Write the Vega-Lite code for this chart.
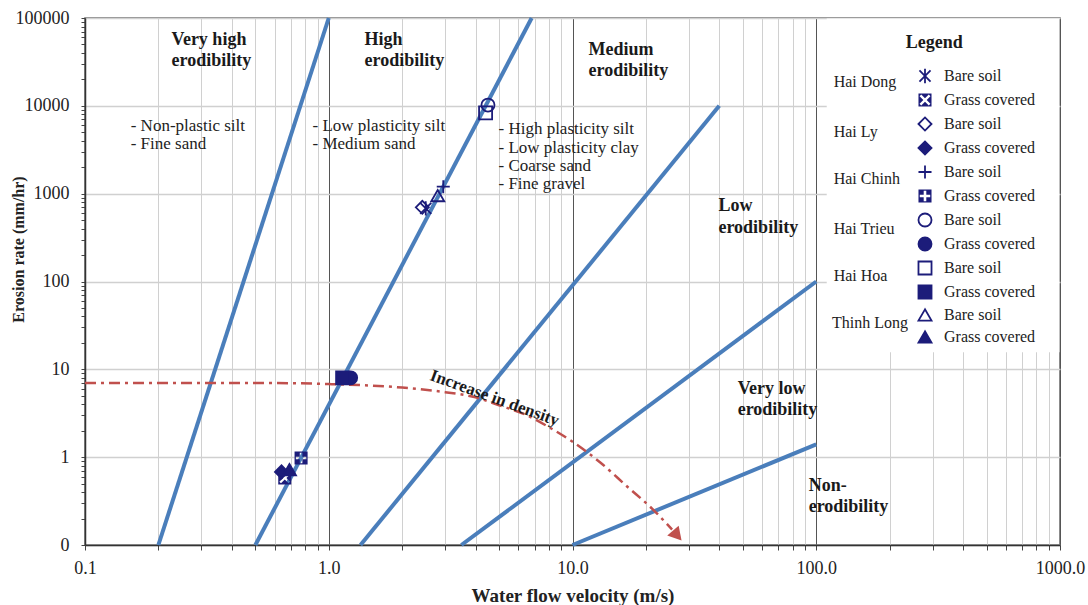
{
  "$schema": "https://vega.github.io/schema/vega-lite/v6.json",
  "width": 975,
  "height": 527,
  "autosize": {"type": "none"},
  "padding": {"left": 85, "top": 18, "right": 28, "bottom": 60},
  "background": "white",
  "config": {
    "font": "Liberation Serif",
    "view": {"stroke": "#666", "strokeWidth": 1.5}
  },
  "datasets": {
    "box": [{"x": 110.4, "x2": 995, "y": 15.7, "y2": 98500}],
    "lines": [
      {"line": "a", "x": 0.2, "y": 0.1}, {"line": "a", "x": 1.0, "y": 100000},
      {"line": "b", "x": 0.5, "y": 0.1}, {"line": "b", "x": 6.8, "y": 100000},
      {"line": "c", "x": 1.35, "y": 0.1}, {"line": "c", "x": 40, "y": 10000},
      {"line": "d", "x": 3.5, "y": 0.1}, {"line": "d", "x": 100, "y": 100},
      {"line": "e", "x": 10, "y": 0.1}, {"line": "e", "x": 100, "y": 1.4}
    ],
    "curve": [
      {"x": 0.1, "y": 7.0}, {"x": 0.5, "y": 7.0}, {"x": 1.0, "y": 6.8},
      {"x": 2.0, "y": 6.2}, {"x": 3.0, "y": 5.5}, {"x": 4.0, "y": 4.8},
      {"x": 5.0, "y": 3.9}, {"x": 6.5, "y": 3.0}, {"x": 8.0, "y": 2.2},
      {"x": 10, "y": 1.5}, {"x": 13, "y": 0.87}, {"x": 16.8, "y": 0.46},
      {"x": 21.5, "y": 0.25}, {"x": 25.6, "y": 0.15}
    ],
    "arrow": [{"x": 26.9, "y": 0.128}],
    "pts": [
      {"series": "Hai Dong|Bare soil", "x": 2.5, "y": 680},
      {"series": "Hai Dong|Grass covered", "x": 0.66, "y": 0.58},
      {"series": "Hai Ly|Bare soil", "x": 2.42, "y": 700},
      {"series": "Hai Ly|Grass covered", "x": 0.64, "y": 0.68},
      {"series": "Hai Chinh|Bare soil", "x": 2.95, "y": 1200},
      {"series": "Hai Chinh|Grass covered", "x": 0.77, "y": 0.98},
      {"series": "Hai Trieu|Bare soil", "x": 4.5, "y": 10200},
      {"series": "Hai Trieu|Grass covered", "x": 1.23, "y": 8.0},
      {"series": "Hai Hoa|Bare soil", "x": 4.4, "y": 8300},
      {"series": "Hai Hoa|Grass covered", "x": 1.14, "y": 8.0},
      {"series": "Thinh Long|Bare soil", "x": 2.8, "y": 950},
      {"series": "Thinh Long|Grass covered", "x": 0.69, "y": 0.72}
    ],
    "regions": [
      {"t": "Very high", "x": 0.2265, "y": 56150},
      {"t": "erodibility", "x": 0.2265, "y": 32370},
      {"t": "High", "x": 1.403, "y": 56150},
      {"t": "erodibility", "x": 1.403, "y": 32370},
      {"t": "Medium", "x": 11.64, "y": 43220},
      {"t": "erodibility", "x": 11.64, "y": 24920},
      {"t": "Low", "x": 39.7, "y": 722},
      {"t": "erodibility", "x": 39.7, "y": 405.7},
      {"t": "Very low", "x": 47.6, "y": 5.95},
      {"t": "erodibility", "x": 47.6, "y": 3.43},
      {"t": "Non-", "x": 93.1, "y": 0.468},
      {"t": "erodibility", "x": 93.1, "y": 0.27},
      {"t": "Legend", "x": 232.8, "y": 51900}
    ],
    "soils": [
      {"t": "- Non-plastic silt", "x": 0.154, "y": 5888},
      {"t": "- Fine sand", "x": 0.154, "y": 3673},
      {"t": "- Low plasticity silt", "x": 0.858, "y": 5888},
      {"t": "- Medium sand", "x": 0.858, "y": 3673},
      {"t": "- High plasticity silt", "x": 4.97, "y": 5444},
      {"t": "- Low plasticity clay", "x": 4.97, "y": 3306},
      {"t": "- Coarse sand", "x": 4.97, "y": 2063},
      {"t": "- Fine gravel", "x": 4.97, "y": 1286}
    ],
    "sites": [
      {"t": "Hai Dong", "x": 117.9, "y": 18660},
      {"t": "Hai Ly", "x": 117.9, "y": 5030},
      {"t": "Hai Chinh", "x": 117.9, "y": 1466},
      {"t": "Hai Trieu", "x": 117.9, "y": 395},
      {"t": "Hai Hoa", "x": 117.9, "y": 115},
      {"t": "Thinh Long", "x": 116, "y": 33.6}
    ],
    "density": [{"t": "Increase in density", "x": 4.79, "y": 4.7}]
  },
  "encoding": {
    "x": {
      "field": "x", "type": "quantitative",
      "scale": {"type": "log", "domain": [0.1, 1000], "nice": false},
      "axis": {
        "title": "Water flow velocity (m/s)",
        "titleFont": "Liberation Serif", "titleFontSize": 19, "titleFontWeight": "bold", "titleColor": "#222",
        "titleY": 50, "titleBaseline": "middle",
        "values": [0.1,0.2,0.3,0.4,0.5,0.6,0.7,0.8,0.9,1,2,3,4,5,6,7,8,9,10,20,30,40,50,60,70,80,90,100,200,300,400,500,600,700,800,900,1000],
        "labelExpr": "abs(log(datum.value)/LN10 - round(log(datum.value)/LN10)) < 0.001 ? format(datum.value, '.1f') : ''",
        "labelFont": "Liberation Serif", "labelFontSize": 18, "labelColor": "#222",
        "labelPadding": 9, "labelFlush": false, "labelOverlap": false,
        "grid": true,
        "gridColor": {"condition": {"test": "abs(log(datum.value)/LN10 - round(log(datum.value)/LN10)) < 0.001", "value": "#555"}, "value": "#d0d0d0"},
        "gridWidth": 1,
        "tickSize": 5, "tickColor": "#444",
        "domainColor": "#333", "domainWidth": 1.5
      }
    },
    "y": {
      "field": "y", "type": "quantitative",
      "scale": {"type": "log", "domain": [0.1, 100000], "nice": false},
      "axis": {
        "title": "Erosion rate (mm/hr)",
        "titleFont": "Liberation Serif", "titleFontSize": 16, "titleFontWeight": "bold", "titleColor": "#222",
        "titleX": -67, "titleY": 231, "titleBaseline": "middle",
        "values": [0.1,0.2,0.3,0.4,0.5,0.6,0.7,0.8,0.9,1,2,3,4,5,6,7,8,9,10,20,30,40,50,60,70,80,90,100,200,300,400,500,600,700,800,900,1000,2000,3000,4000,5000,6000,7000,8000,9000,10000,20000,30000,40000,50000,60000,70000,80000,90000,100000],
        "labelExpr": "abs(log(datum.value)/LN10 - round(log(datum.value)/LN10)) < 0.001 ? (datum.value < 0.5 ? '0' : format(datum.value, 'd')) : ''",
        "labelFont": "Liberation Serif", "labelFontSize": 18, "labelColor": "#222",
        "labelPadding": 12, "labelOverlap": false, "labelFlush": false,
        "grid": true,
        "gridOpacity": {"condition": {"test": "abs(log(datum.value)/LN10 - round(log(datum.value)/LN10)) < 0.001", "value": 1}, "value": 0},
        "gridColor": "#d0d0d0", "gridWidth": 1.3,
        "tickSize": 4, "tickColor": "#444",
        "domainColor": "#333", "domainWidth": 1.5
      }
    }
  },
  "layer": [
    {
      "data": {"name": "box"},
      "mark": {"type": "rect", "fill": "white"},
      "encoding": {"x2": {"field": "x2"}, "y2": {"field": "y2"}}
    },
    {
      "data": {"name": "lines"},
      "mark": {"type": "line", "color": "#4a7ebb", "strokeWidth": 4},
      "encoding": {"detail": {"field": "line", "type": "nominal"}}
    },
    {
      "data": {"name": "curve"},
      "mark": {"type": "line", "color": "#c0504d", "strokeWidth": 2.5, "strokeDash": [11, 5, 3, 5], "interpolate": "monotone"},
      "encoding": {}
    },
    {
      "data": {"name": "arrow"},
      "mark": {"type": "point", "shape": "triangle-up", "filled": true, "color": "#c0504d", "size": 230, "angle": 139, "opacity": 1}
    },
    {
      "data": {"name": "pts"},
      "mark": {"type": "point", "size": 170, "strokeWidth": 1.8, "opacity": 1},
      "encoding": {
        "shape": {
          "field": "series", "type": "nominal",
          "scale": {
            "domain": ["Hai Dong|Bare soil","Hai Dong|Grass covered","Hai Ly|Bare soil","Hai Ly|Grass covered","Hai Chinh|Bare soil","Hai Chinh|Grass covered","Hai Trieu|Bare soil","Hai Trieu|Grass covered","Hai Hoa|Bare soil","Hai Hoa|Grass covered","Thinh Long|Bare soil","Thinh Long|Grass covered"],
            "range": [
              "M-0.85,-0.85L0.85,0.85M0.85,-0.85L-0.85,0.85M0,-1.1L0,1.1",
              "M-1,-1L1,-1L1,1L-1,1ZM0.58,-0.83L0,-0.255L-0.58,-0.83L-0.83,-0.58L-0.255,0L-0.83,0.58L-0.58,0.83L0,0.255L0.58,0.83L0.83,0.58L0.255,0L0.83,-0.58Z",
              "diamond", "diamond",
              "M-1,0L1,0M0,-1L0,1",
              "M-1,-1L1,-1L1,1L-1,1ZM-0.2,-0.8L-0.2,-0.2L-0.8,-0.2L-0.8,0.2L-0.2,0.2L-0.2,0.8L0.2,0.8L0.2,0.2L0.8,0.2L0.8,-0.2L0.2,-0.2L0.2,-0.8Z",
              "circle", "circle", "square", "square", "triangle-up", "triangle-up"
            ]
          },
          "legend": {
            "title": null, "orient": "none", "legendX": 832, "legendY": 50,
            "labelExpr": "split(datum.label, '|')[1]",
            "labelFont": "Liberation Serif", "labelFontSize": 16, "labelColor": "#222",
            "labelOffset": 11, "rowPadding": 2, "symbolSize": 170, "symbolStrokeWidth": 1.8,
            "symbolLimit": 0
          }
        },
        "fill": {
          "field": "series", "type": "nominal",
          "scale": {
            "domain": ["Hai Dong|Bare soil","Hai Dong|Grass covered","Hai Ly|Bare soil","Hai Ly|Grass covered","Hai Chinh|Bare soil","Hai Chinh|Grass covered","Hai Trieu|Bare soil","Hai Trieu|Grass covered","Hai Hoa|Bare soil","Hai Hoa|Grass covered","Thinh Long|Bare soil","Thinh Long|Grass covered"],
            "range": ["transparent","#1c1c7a","transparent","#1c1c7a","transparent","#1c1c7a","transparent","#1c1c7a","transparent","#1c1c7a","transparent","#1c1c7a"]
          }
        },
        "stroke": {
          "field": "series", "type": "nominal",
          "scale": {
            "domain": ["Hai Dong|Bare soil","Hai Dong|Grass covered","Hai Ly|Bare soil","Hai Ly|Grass covered","Hai Chinh|Bare soil","Hai Chinh|Grass covered","Hai Trieu|Bare soil","Hai Trieu|Grass covered","Hai Hoa|Bare soil","Hai Hoa|Grass covered","Thinh Long|Bare soil","Thinh Long|Grass covered"],
            "range": ["#1c1c7a","transparent","#1c1c7a","#1c1c7a","#1c1c7a","transparent","#1c1c7a","#1c1c7a","#1c1c7a","#1c1c7a","#1c1c7a","#1c1c7a"]
          }
        }
      }
    },
    {
      "data": {"name": "regions"},
      "mark": {"type": "text", "align": "left", "baseline": "middle", "font": "Liberation Serif", "fontSize": 18, "fontWeight": "bold", "color": "#1a1a1a"},
      "encoding": {"text": {"field": "t"}}
    },
    {
      "data": {"name": "soils"},
      "mark": {"type": "text", "align": "left", "baseline": "middle", "font": "Liberation Serif", "fontSize": 17, "color": "#222"},
      "encoding": {"text": {"field": "t"}}
    },
    {
      "data": {"name": "sites"},
      "mark": {"type": "text", "align": "left", "baseline": "middle", "font": "Liberation Serif", "fontSize": 16, "color": "#222"},
      "encoding": {"text": {"field": "t"}}
    },
    {
      "data": {"name": "density"},
      "mark": {"type": "text", "align": "center", "baseline": "middle", "font": "Liberation Serif", "fontSize": 17, "fontWeight": "bold", "angle": 20, "color": "#1a1a1a"},
      "encoding": {"text": {"field": "t"}}
    }
  ]
}
